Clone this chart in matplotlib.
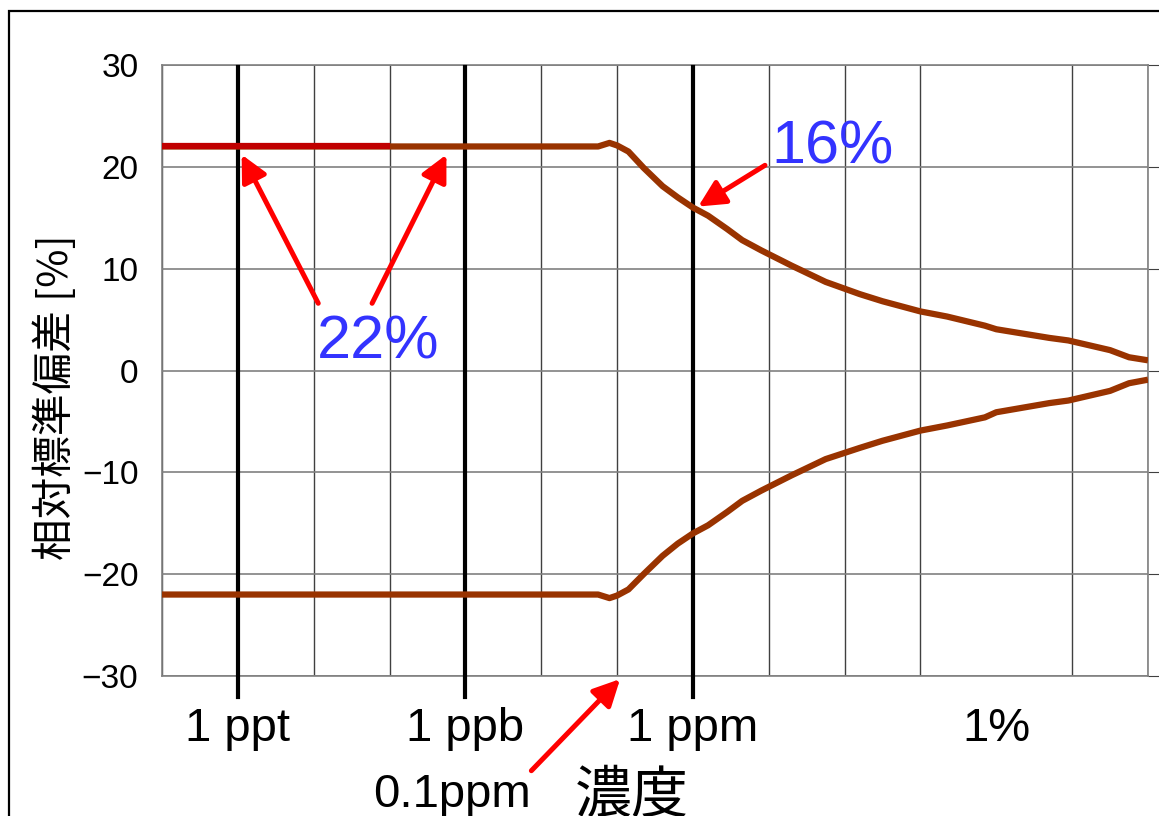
import matplotlib
matplotlib.use('Agg')
import matplotlib.pyplot as plt
from matplotlib.patches import Rectangle

plt.rcParams['font.family'] = ['Liberation Sans', 'Noto Sans CJK JP']
plt.rcParams['axes.unicode_minus'] = True

# x = log10(concentration / ppm)
upper_x = [-7, -1.25, -1.1, -1.0, -0.85, -0.65, -0.4, -0.2, 0.0, 0.2, 0.45, 0.65, 0.9,
           1.3, 1.75, 2.2, 2.5, 3.0, 3.35, 3.85, 4.0, 4.7, 4.95, 5.5, 5.75, 6.0]
upper_y = [22.0, 22.0, 22.35, 22.1, 21.5, 19.9, 18.1, 17.0, 16.0, 15.2, 13.9, 12.8, 11.8,
           10.3, 8.7, 7.5, 6.8, 5.8, 5.3, 4.4, 4.05, 3.2, 2.95, 2.0, 1.3, 1.0]
lower_x = upper_x
lower_y = [-22.0, -22.0, -22.35, -22.1, -21.5, -20.0, -18.2, -17.0, -16.0, -15.2, -13.9, -12.8, -11.8,
           -10.3, -8.7, -7.6, -6.9, -5.9, -5.4, -4.6, -4.1, -3.2, -2.95, -2.0, -1.25, -0.9]
red_x = [-7, -4]
red_y = [22.0, 22.0]

key_x = [-6, -3, 0, 4]
key_labels = ['1 ppt', '1 ppb', '1 ppm', '1%']
bold_x = [-6, -3, 0]
y_ticks = [-30, -20, -10, 0, 10, 20, 30]

W, H = 1159, 816
fig = plt.figure(figsize=(W / 100, H / 100), dpi=100)
ax = fig.add_axes([162 / W, 1 - 676 / H, (1148 - 162) / W, (676 - 65) / H])

# outer frame
fig.patches.append(Rectangle((9 / W, -0.05), 1.1, 1 - 11 / H + 0.05, transform=fig.transFigure,
                             fill=False, edgecolor='black', linewidth=1.6))

ax.set_xlim(-7, 6)
ax.set_ylim(-30, 30)
ax.set_yticks(y_ticks)
ax.set_xticks(key_x)
ax.set_xticklabels(key_labels)
ax.set_xticks(range(-7, 7), minor=True)

ax.grid(axis='y', color='#808080', linewidth=1.2)
ax.grid(axis='x', which='minor', color='#404040', linewidth=1.0)
ax.grid(axis='x', which='major', visible=False)
for s in ax.spines.values():
    s.set_color('#808080')
    s.set_linewidth(1.2)

ax.tick_params(axis='x', which='both', length=0, labelsize=34, pad=22)
ax.tick_params(axis='y', left=False, right=True, direction='out', length=8,
               color='#404040', labelsize=24, pad=9)

for x in bold_x:
    ax.plot([x, x], [29.8, -32.1], color='black', linewidth=3.0, clip_on=False, zorder=3)

ax.plot(upper_x, upper_y, color='#993300', linewidth=4.5, zorder=4, solid_capstyle='butt')
ax.plot(lower_x, lower_y, color='#993300', linewidth=4.5, zorder=4, solid_capstyle='butt')
ax.plot(red_x, red_y, color='#C00000', linewidth=4.5, zorder=5, solid_capstyle='butt')

arrow = dict(arrowstyle='-|>', color='red', lw=3.6, mutation_scale=40, shrinkA=0, shrinkB=0)
ax.annotate('', xy=(-5.95, 21.2), xytext=(-4.94, 6.6), arrowprops=arrow, zorder=6)
ax.annotate('', xy=(-3.25, 21.2), xytext=(-4.23, 6.6), arrowprops=arrow, zorder=6)
ax.annotate('', xy=(0.07, 16.1), xytext=(0.95, 20.15), arrowprops=arrow, zorder=6)
ax.annotate('', xy=(-0.96, -30.3), xytext=(-2.13, -39.3), arrowprops=arrow,
            annotation_clip=False, zorder=6)

ax.text(-4.15, 1.2, '22%', color='#3333FF', fontsize=44, ha='center', va='baseline', zorder=7)
ax.text(1.84, 20.35, '16%', color='#3333FF', fontsize=44, ha='center', va='baseline', zorder=7)
ax.text(-3.18, -42.9, '0.1ppm', fontsize=34, ha='center', va='baseline', clip_on=False)

fig.text(632 / W, 1 - 796 / H, '濃度', fontsize=41, ha='center', va='center',
         family=['Noto Sans CJK JP'])
fig.text(55 / W, 1 - 397 / H, '相対標準偏差 [%]', fontsize=30, ha='center', va='center',
         rotation=90, family=['Noto Sans CJK JP'])

fig.savefig('out.png', dpi=100)
